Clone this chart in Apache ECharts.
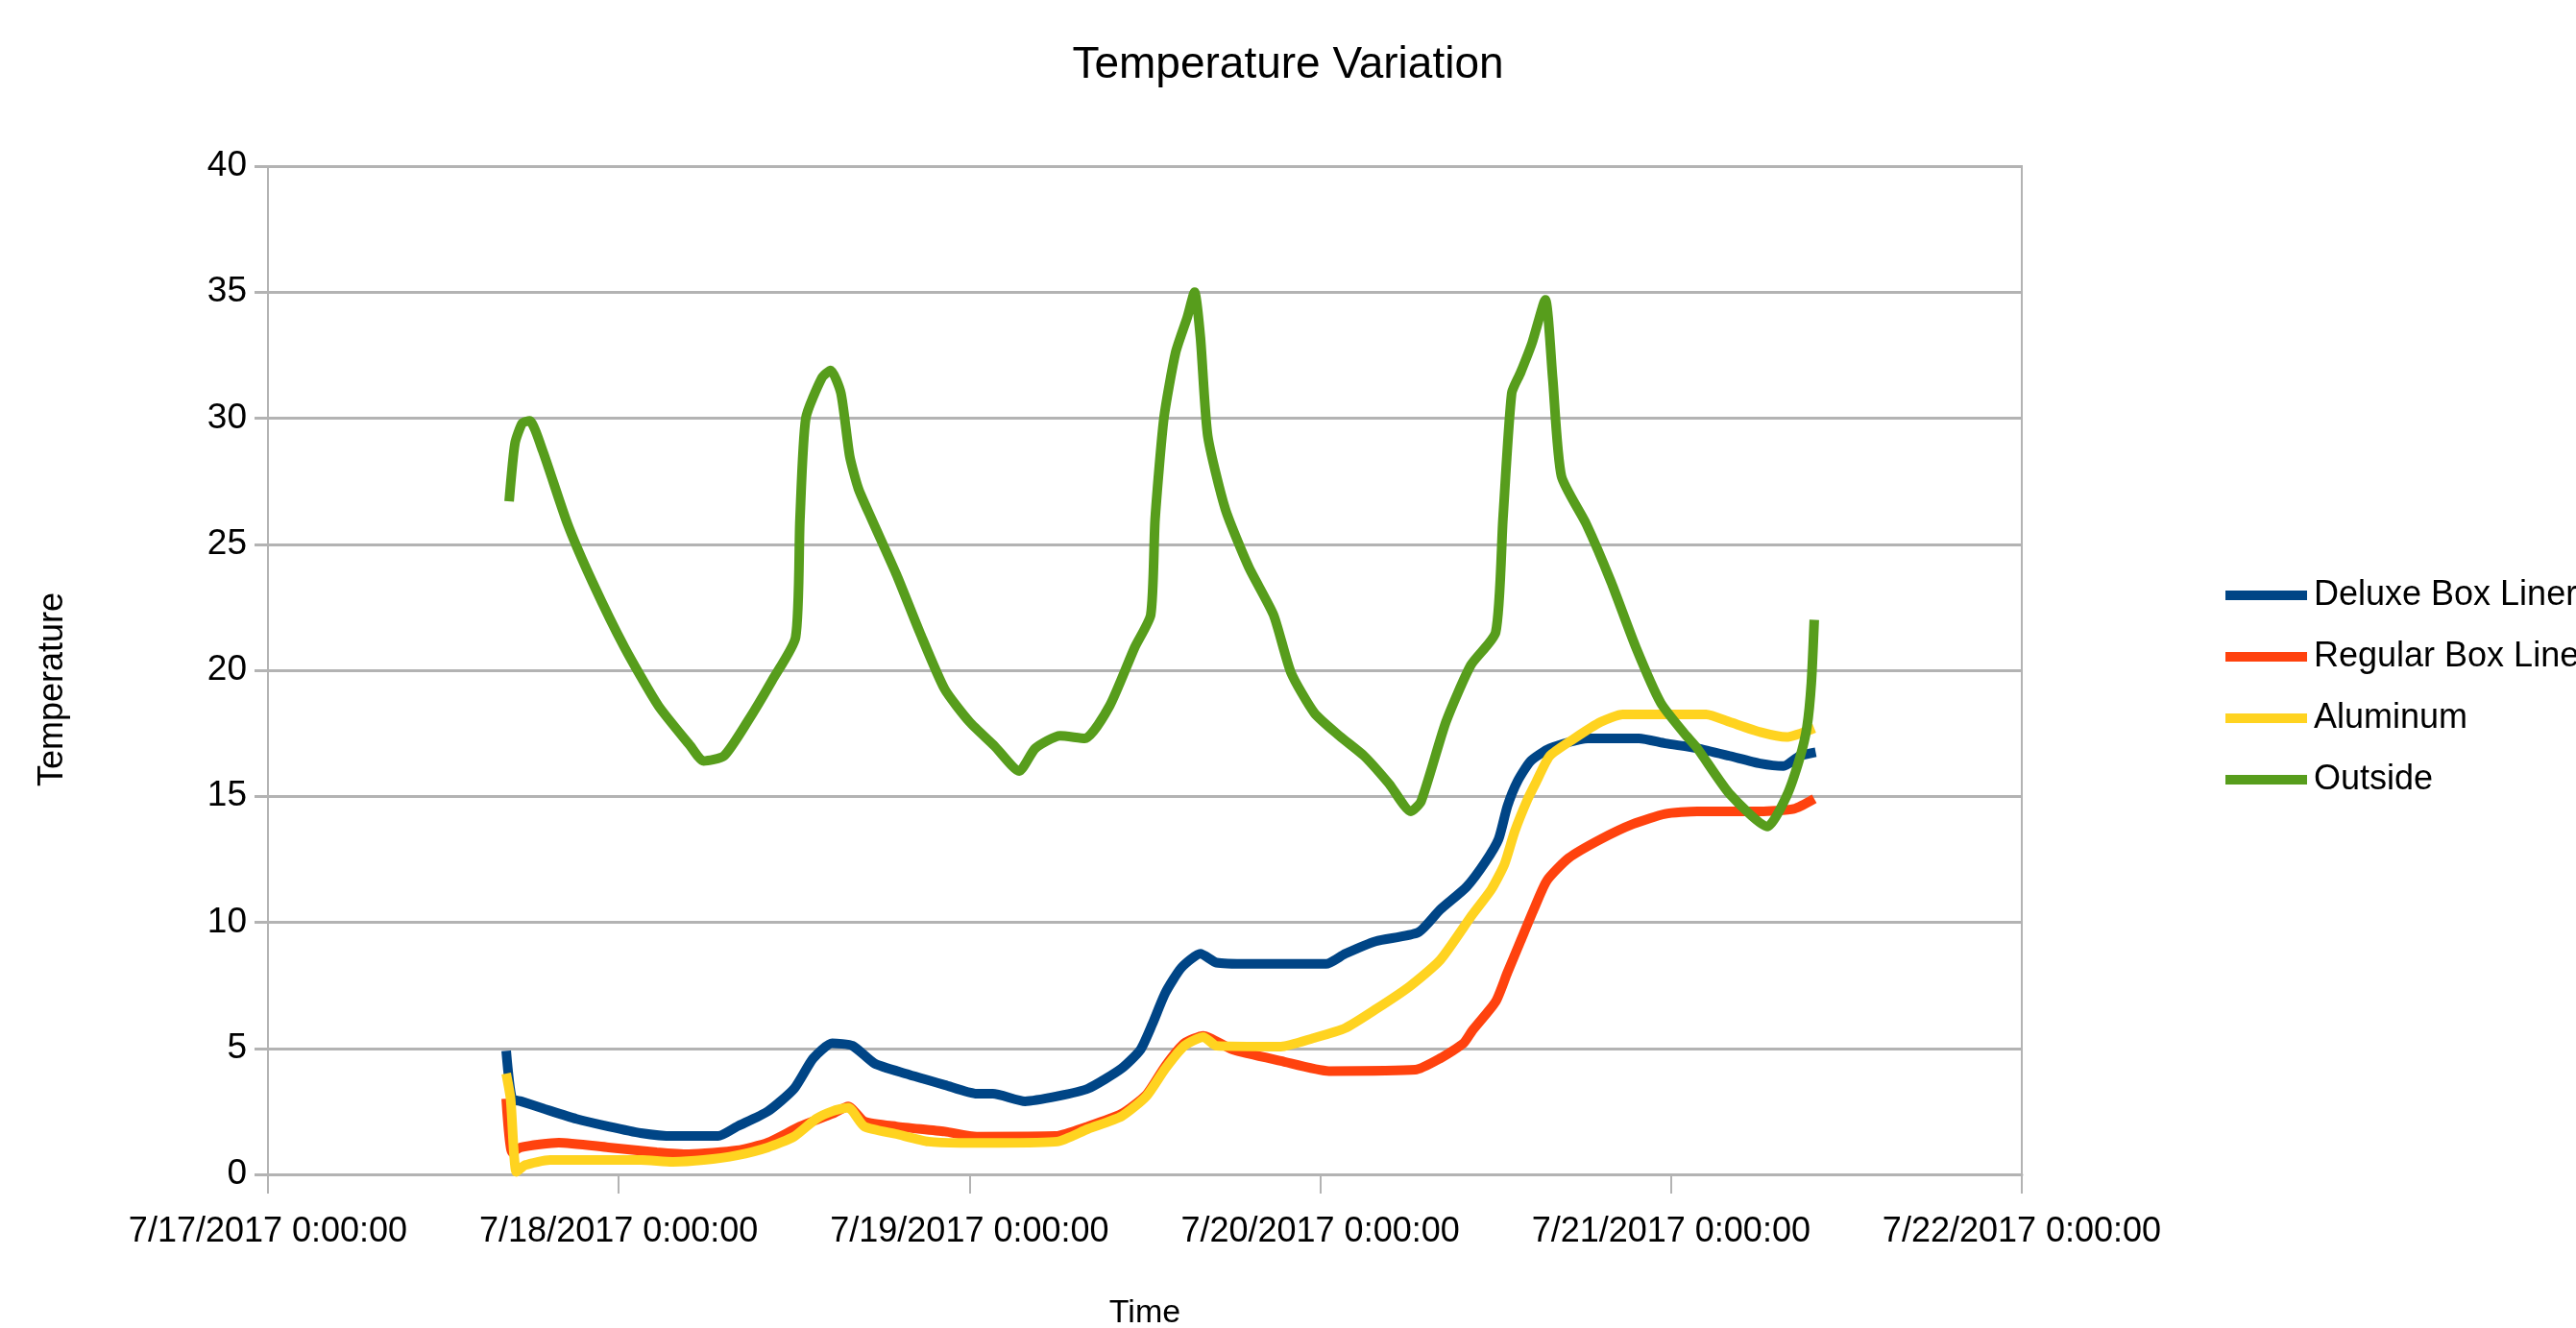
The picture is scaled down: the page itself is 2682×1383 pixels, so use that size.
<!DOCTYPE html>
<html>
<head>
<meta charset="utf-8">
<script src="https://cdn.jsdelivr.net/npm/echarts@6/dist/echarts.min.js"></script>
<style>
  html, body { margin: 0; padding: 0; background: #fff; }
  #chart { width: 2682px; height: 1383px; }
</style>
</head>
<body>
<div id="chart"></div>
<script>
// hours counted from 7/17/2017 0:00:00
var seriesNames = ['Deluxe Box Liner', 'Regular Box Liner', 'Aluminum', 'Outside'];
var dayTicks = ['7/17/2017 0:00:00', '7/18/2017 0:00:00', '7/19/2017 0:00:00', '7/20/2017 0:00:00', '7/21/2017 0:00:00', '7/22/2017 0:00:00'];

var deluxeHours = [16.3, 16.7, 17.3, 18.9, 21.1, 23.3, 25.5, 27.7, 30.8, 32.1, 34.2, 36.0, 37.3, 38.6, 40.0, 41.5, 43.6, 46.3, 48.5, 49.6, 51.8, 54.0, 56.1, 58.4, 59.7, 60.5, 61.4, 62.5, 63.8, 64.9, 67.1, 72.4, 73.7, 75.8, 78.7, 80.2, 82.0, 83.3, 84.2, 84.8, 85.5, 86.4, 87.7, 90.3, 93.8, 95.6, 97.8, 100.0, 102.1, 103.7, 104.8, 105.9];
var deluxeTemp  = [4.9, 3.0, 2.9, 2.6, 2.2, 1.9, 1.64, 1.52, 1.52, 1.9, 2.5, 3.4, 4.6, 5.2, 5.1, 4.4, 4.0, 3.55, 3.2, 3.2, 2.9, 3.1, 3.4, 4.2, 4.95, 5.95, 7.2, 8.2, 8.75, 8.4, 8.35, 8.35, 8.75, 9.25, 9.6, 10.5, 11.4, 12.4, 13.3, 14.6, 15.6, 16.4, 16.9, 17.3, 17.3, 17.1, 16.9, 16.6, 16.3, 16.2, 16.6, 16.75];

var regularHours = [16.3, 16.7, 17.3, 19.9, 23.3, 26.6, 28.8, 32.1, 34.2, 36.4, 38.6, 39.7, 40.8, 43.0, 46.3, 48.5, 53.9, 56.1, 58.4, 60.1, 61.4, 62.7, 64.0, 66.0, 69.3, 72.6, 78.5, 80.2, 81.8, 82.4, 84.0, 84.8, 85.7, 86.6, 87.5, 89.0, 91.2, 93.4, 95.6, 97.8, 102.1, 104.4, 105.8];
var regularTemp  = [3.0, 0.88, 1.07, 1.26, 1.07, 0.88, 0.8, 0.95, 1.26, 1.9, 2.4, 2.7, 2.1, 1.9, 1.7, 1.5, 1.52, 1.9, 2.4, 3.16, 4.3, 5.2, 5.5, 4.95, 4.5, 4.1, 4.15, 4.6, 5.2, 5.7, 6.85, 8.0, 9.25, 10.5, 11.65, 12.55, 13.3, 13.9, 14.3, 14.4, 14.4, 14.5, 14.9];

var aluminumHours = [16.3, 16.6, 17.0, 17.6, 19.3, 25.5, 27.7, 29.8, 32.1, 34.2, 36.0, 37.5, 38.6, 39.7, 40.8, 43.0, 45.2, 47.4, 50.0, 54.0, 56.1, 58.4, 60.1, 61.4, 62.7, 64.0, 64.9, 69.3, 71.5, 73.7, 75.8, 78.1, 80.2, 82.4, 83.7, 84.6, 85.3, 86.2, 86.8, 87.7, 89.4, 91.2, 92.7, 98.4, 100.0, 102.1, 103.9, 105.8];
var aluminumTemp  = [4.0, 3.0, 0.1, 0.37, 0.57, 0.57, 0.5, 0.57, 0.76, 1.07, 1.5, 2.2, 2.5, 2.65, 1.9, 1.6, 1.3, 1.25, 1.25, 1.3, 1.8, 2.3, 3.1, 4.2, 5.1, 5.45, 5.1, 5.07, 5.4, 5.8, 6.55, 7.45, 8.5, 10.3, 11.3, 12.3, 13.6, 14.9, 15.6, 16.6, 17.3, 17.95, 18.25, 18.25, 17.95, 17.55, 17.35, 17.7];

var outsideHours = [16.5, 16.9, 17.4, 17.9, 18.8, 20.5, 22.2, 24.4, 26.7, 28.9, 29.8, 31.2, 32.8, 34.5, 36.1, 36.4, 36.8, 37.9, 38.5, 39.2, 39.8, 40.4, 41.3, 43.0, 44.6, 46.3, 48.0, 49.7, 51.4, 52.5, 54.2, 55.9, 57.6, 59.3, 60.4, 60.7, 61.3, 62.1, 62.9, 63.4, 63.8, 64.3, 65.5, 67.1, 68.8, 70.0, 71.6, 73.3, 75.0, 76.7, 78.2, 78.9, 80.6, 82.3, 84.0, 84.5, 85.1, 85.7, 86.5, 87.4, 87.9, 88.5, 90.2, 91.9, 93.6, 95.3, 96.9, 97.8, 100.0, 102.6, 103.9, 104.8, 105.3, 105.6, 105.8];
var outsideTemp  = [26.7, 29.0, 29.8, 29.9, 28.7, 25.8, 23.5, 20.9, 18.6, 17.0, 16.4, 16.6, 17.95, 19.6, 21.3, 26.0, 30.0, 31.6, 31.9, 31.0, 28.5, 27.2, 26.0, 23.8, 21.5, 19.25, 17.95, 17.0, 16.0, 16.9, 17.4, 17.3, 18.6, 20.9, 22.2, 26.0, 30.0, 32.6, 34.0, 35.0, 33.2, 29.3, 26.4, 24.1, 22.2, 19.9, 18.3, 17.4, 16.6, 15.5, 14.4, 14.8, 17.95, 20.2, 21.5, 26.0, 31.0, 31.8, 33.0, 34.7, 31.6, 27.7, 25.8, 23.5, 20.9, 18.7, 17.5, 16.9, 15.1, 13.8, 15.0, 16.5, 17.75, 19.5, 22.0];

var colors = ['#004586', '#ff420e', '#ffd320', '#579d1c'];

function pairs(hours, temps) {
    return hours.map(function (h, i) { return [h, temps[i]]; });
}

var myChart = echarts.init(document.getElementById('chart'));
var gridGray = '#b3b3b3';
var font = 'Liberation Sans, Arial, sans-serif';

var option = {
    animation: false,
    color: colors,
    title: {
        text: 'Temperature Variation',
        left: 'center',
        top: 40,
        textStyle: { fontSize: 46, fontWeight: 'normal', color: '#000', fontFamily: font }
    },
    grid: {
        left: 279, right: 577, top: 173, bottom: 160,
        outerBoundsMode: 'none',
        show: true, borderColor: gridGray, borderWidth: 2
    },
    legend: {
        orient: 'vertical',
        left: 2312,
        top: 595,
        icon: 'rect',
        itemWidth: 85,
        itemHeight: 10,
        itemGap: 24,
        data: seriesNames,
        textStyle: { fontSize: 36, color: '#000', fontFamily: font, lineHeight: 40, padding: [0, 0, 0, 2] }
    },
    xAxis: {
        type: 'value',
        min: 0, max: 120, interval: 24,
        name: 'Time',
        nameLocation: 'middle',
        nameGap: 128,
        nameTextStyle: { fontSize: 34, color: '#000', fontFamily: font },
        axisLine: { lineStyle: { color: gridGray, width: 3 } },
        axisTick: { show: true, length: 20, lineStyle: { color: gridGray, width: 2 } },
        splitLine: { show: false },
        axisLabel: {
            margin: 42, fontSize: 36, color: '#000', fontFamily: font,
            formatter: function (v) { return dayTicks[Math.round(v / 24)]; }
        }
    },
    yAxis: {
        type: 'value',
        min: 0, max: 40, interval: 5,
        name: 'Temperature',
        nameLocation: 'middle',
        nameGap: 206,
        nameTextStyle: { fontSize: 36, color: '#000', fontFamily: font, padding: [0, 40, 0, 0] },
        axisLine: { show: true, lineStyle: { color: gridGray, width: 2 } },
        axisTick: { show: true, length: 14, lineStyle: { color: gridGray, width: 3 } },
        splitLine: { lineStyle: { color: gridGray, width: 3 } },
        axisLabel: { margin: 22, fontSize: 37, color: '#000', fontFamily: font }
    },
    series: [
        { name: seriesNames[0], type: 'line', symbol: 'none', smooth: 0.2, lineStyle: { width: 10 }, data: pairs(deluxeHours, deluxeTemp) },
        { name: seriesNames[1], type: 'line', symbol: 'none', smooth: 0.2, lineStyle: { width: 10 }, data: pairs(regularHours, regularTemp) },
        { name: seriesNames[2], type: 'line', symbol: 'none', smooth: 0.2, lineStyle: { width: 10 }, data: pairs(aluminumHours, aluminumTemp) },
        { name: seriesNames[3], type: 'line', symbol: 'none', smooth: 0.2, lineStyle: { width: 10 }, data: pairs(outsideHours, outsideTemp) }
    ]
};
myChart.setOption(option);
</script>
</body>
</html>
